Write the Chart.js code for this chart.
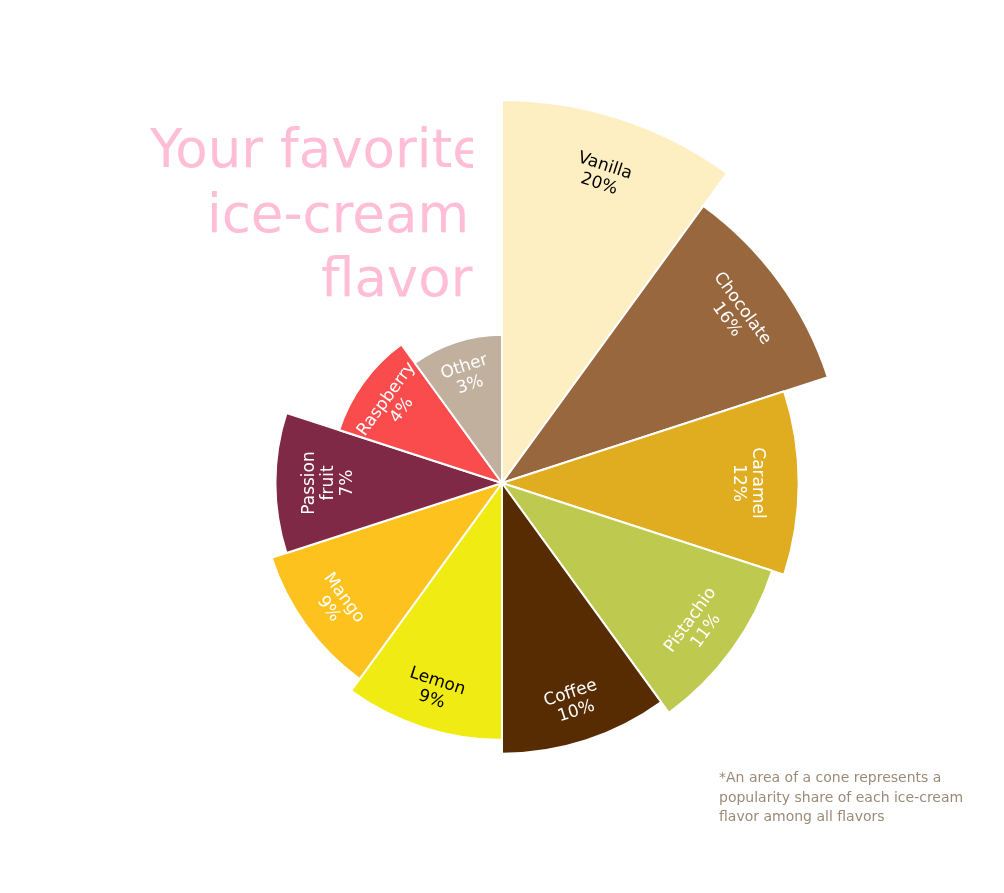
<!DOCTYPE html>
<html>
<head>
<meta charset="utf-8">
<script src="https://cdn.jsdelivr.net/npm/chart.js@4/dist/chart.umd.min.js"></script>
<style>
  html, body { margin: 0; padding: 0; background: #ffffff; }
  #wrap { position: relative; width: 1004px; height: 893px; }
  canvas { display: block; }
</style>
</head>
<body>
<div id="wrap"><canvas id="c" width="1004" height="893"></canvas></div>
<script>
// ---- data ----
const flavors = ['Vanilla', 'Chocolate', 'Caramel', 'Pistachio', 'Coffee', 'Lemon', 'Mango', 'Passion fruit', 'Raspberry', 'Other'];
// share values as read from cone areas (sum = 100)
const shares = [20, 16, 12, 11, 10, 9, 8, 7, 4, 3];
// percentages as printed on the cones
const shareLabels = ['20%', '16%', '12%', '11%', '10%', '9%', '9%', '7%', '4%', '3%'];
const sliceColors = ['#feefc3', '#98673e', '#e0ad21', '#bec94f', '#572c02', '#f1eb14', '#fec21f', '#7f2946', '#fb4c4d', '#c1b09e'];
const labelColors = ['#000000', '#ffffff', '#ffffff', '#ffffff', '#ffffff', '#000000', '#ffffff', '#ffffff', '#ffffff', '#ffffff'];
const titleLines = ['Your favorite', 'ice-cream', 'flavor'];
const noteLines = ['*An area of a cone represents a', 'popularity share of each ice-cream', 'flavor among all flavors'];

// radial scale where the AREA of a cone is proportional to the value (radius ~ sqrt(value))
class SqrtRadialScale extends Chart.RadialLinearScale {
  getDistanceFromCenterForValue(value) {
    if (value === null || isNaN(value)) return NaN;
    const span = this.max - this.min;
    const scaling = this.drawingArea / Math.sqrt(span);
    return Math.sqrt(Math.max(value - this.min, 0)) * scaling;
  }
}
SqrtRadialScale.id = 'sqrtRadial';
SqrtRadialScale.defaults = Chart.RadialLinearScale.defaults;
Chart.register(SqrtRadialScale);

const titlePlugin = {
  id: 'titleText',
  beforeDatasetsDraw(chart) {
    const ctx = chart.ctx;
    ctx.save();
    ctx.beginPath();
    ctx.rect(0, 0, 473, chart.height);
    ctx.clip();
    ctx.fillStyle = '#ffbdd6';
    ctx.font = '53px "DejaVu Sans"';
    ctx.textAlign = 'left';
    ctx.textBaseline = 'alphabetic';
    const lefts = [150, 207, 321];
    const bases = [167, 232, 296];
    titleLines.forEach((t, i) => ctx.fillText(t, lefts[i], bases[i]));
    ctx.restore();

    ctx.save();
    ctx.fillStyle = '#9c8a78';
    ctx.font = '14px "DejaVu Sans"';
    ctx.textAlign = 'left';
    noteLines.forEach((t, i) => ctx.fillText(t, 719, 782 + i * 19.5));
    ctx.restore();
  }
};

const labelPlugin = {
  id: 'sliceLabels',
  afterDatasetsDraw(chart) {
    const ctx = chart.ctx;
    const meta = chart.getDatasetMeta(0);
    meta.data.forEach((arc, i) => {
      const p = arc.getProps(['x', 'y', 'startAngle', 'endAngle', 'outerRadius'], true);
      const lines = flavors[i].split(' ').concat([shareLabels[i]]);
      const mid = (p.startAngle + p.endAngle) / 2;
      const rl = p.outerRadius * 0.9 - 17 - 10 * (lines.length - 2);
      const x = p.x + Math.cos(mid) * rl;
      const y = p.y + Math.sin(mid) * rl;
      let deg = (mid + Math.PI / 2) * 180 / Math.PI;
      deg = ((deg % 360) + 360) % 360;
      if (deg > 90.5 && deg < 269.5) deg -= 180;
      else if (deg >= 269.5) deg -= 360;
      ctx.save();
      ctx.translate(x, y);
      ctx.rotate(deg * Math.PI / 180);
      ctx.fillStyle = labelColors[i];
      ctx.font = '17px "DejaVu Sans"';
      ctx.textAlign = 'center';
      ctx.textBaseline = 'middle';
      const lh = 19;
      const y0 = -(lines.length - 1) * lh / 2 + 4;
      lines.forEach((t, k) => ctx.fillText(t, 0, y0 + k * lh));
      ctx.restore();
    });
  }
};

new Chart(document.getElementById('c'), {
  type: 'polarArea',
  data: {
    labels: flavors,
    datasets: [{
      data: shares,
      backgroundColor: sliceColors,
      borderColor: '#ffffff',
      borderWidth: 2
    }]
  },
  options: {
    responsive: false,
    animation: false,
    layout: { padding: { top: 100, bottom: 27, left: 0, right: 0 } },
    plugins: {
      legend: { display: false },
      tooltip: { enabled: false },
      title: { display: false }
    },
    scales: {
      r: {
        type: 'sqrtRadial',
        min: 0,
        max: 20,
        ticks: { display: false },
        grid: { display: false },
        angleLines: { display: false },
        pointLabels: { display: false }
      }
    }
  },
  plugins: [titlePlugin, labelPlugin]
});
</script>
</body>
</html>
